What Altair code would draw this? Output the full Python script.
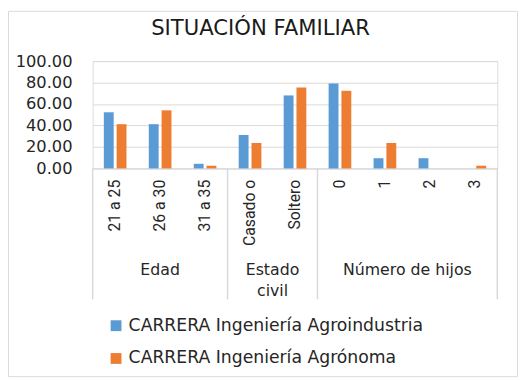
import altair as alt
import pandas as pd

# ---- data ----
categorias = ["21 a 25", "26 a 30", "31 a 35", "Casado o", "Soltero", "0", "1", "2", "3"]
series = ["CARRERA Ingeniería Agroindustria", "CARRERA Ingeniería Agrónoma"]
agroindustria = [52.3, 41.2, 4.3, 31.1, 68.0, 79.0, 9.5, 9.5, 0.0]
agronoma = [41.2, 54.1, 2.5, 23.7, 75.3, 72.3, 23.7, 0.0, 2.5]
colores = ["#5B9BD5", "#ED7D31"]
y_ticks = [0, 20, 40, 60, 80, 100]

grupo_centro = ["Edad"]              # label centred on the middle category
grupo_centro_cat = ["26 a 30"]
grupo_borde = ["Estado\ncivil", "Número de hijos"]  # label centred on a band edge
grupo_borde_cat = ["Casado o", "1"]
sep_inicio_cat = ["21 a 25"]
sep_fin_cat = ["31 a 35", "Soltero", "3"]

titulo = ["SITUACIÓN FAMILIAR"]

# ---- tables ----
rows = []
for s, vals in zip(series, [agroindustria, agronoma]):
    for c, v in zip(categorias, vals):
        rows.append({"cat": c, "serie": s, "valor": v})
df = pd.DataFrame(rows)

FONT = "DejaVu Sans"
W, H = 411, 109

xscale = alt.Scale(domain=categorias, paddingInner=0, paddingOuter=0)
xaxis = alt.Axis(title=None, labelAngle=270, labelPadding=11, ticks=False,
                 domain=True, domainColor="#D9D9D9", domainWidth=1,
                 labelFontSize=16, labelFont="Roboto", labelColor="#262626")

bars = alt.Chart(df).mark_bar().encode(
    x=alt.X("cat:N", scale=xscale, sort=categorias, axis=xaxis),
    xOffset=alt.XOffset("serie:N", sort=series,
                        scale=alt.Scale(paddingInner=0.23, paddingOuter=0.87)),
    y=alt.Y("valor:Q", scale=alt.Scale(domain=[0, 100], nice=False),
            axis=alt.Axis(title=None, values=y_ticks, format=".2f", ticks=False,
                          domain=False, gridColor="#D9D9D9", gridWidth=1,
                          labelPadding=21, labelFontSize=16.5, labelFont=FONT,
                          labelColor="#262626")),
    color=alt.Color("serie:N", sort=series,
                    scale=alt.Scale(domain=series, range=colores),
                    legend=alt.Legend(orient="none", legendX=15, legendY=260,
                                      direction="vertical", title=None,
                                      symbolType="square", symbolSize=121,
                                      symbolStrokeWidth=0, labelFontSize=17.5,
                                      labelFont=FONT, labelColor="#262626",
                                      labelLimit=450,
                                      rowPadding=14.3, labelOffset=4, padding=0)),
)

sep1 = alt.Chart(pd.DataFrame({"cat": sep_inicio_cat})).mark_rule(
    color="#D9D9D9", strokeWidth=1.5).encode(
    x=alt.X("cat:N", scale=xscale, sort=categorias, bandPosition=0, axis=xaxis),
    y=alt.value(H), y2=alt.value(H + 133))
sep2 = alt.Chart(pd.DataFrame({"cat": sep_fin_cat})).mark_rule(
    color="#D9D9D9", strokeWidth=1.5).encode(
    x=alt.X("cat:N", scale=xscale, sort=categorias, bandPosition=1, axis=xaxis),
    y=alt.value(H), y2=alt.value(H + 133))

g1 = alt.Chart(pd.DataFrame({"cat": grupo_centro_cat, "t": grupo_centro})).mark_text(
    font=FONT, fontSize=16, color="#262626", baseline="alphabetic", align="center",
    lineBreak="\n", lineHeight=21.7).encode(
    x=alt.X("cat:N", scale=xscale, sort=categorias, bandPosition=0.5, axis=xaxis),
    y=alt.value(276 - 59), text="t:N")
g2 = alt.Chart(pd.DataFrame({"cat": grupo_borde_cat, "t": grupo_borde})).mark_text(
    font=FONT, fontSize=16, color="#262626", baseline="alphabetic", align="center",
    lineBreak="\n", lineHeight=21.7).encode(
    x=alt.X("cat:N", scale=xscale, sort=categorias, bandPosition=1, axis=xaxis),
    y=alt.value(276 - 59), text="t:N")

title_layer = alt.Chart(pd.DataFrame({"t": titulo})).mark_text(
    font=FONT, fontSize=21.5, color="#1a1a1a", baseline="alphabetic",
    align="center").encode(
    x=alt.value(264.5 - 94), y=alt.value(32.5 - 59), text="t:N")

border = alt.Chart(pd.DataFrame({"k": [0]})).mark_rect(
    fillOpacity=0, stroke="#D9D9D9", strokeWidth=1).encode(
    x=alt.value(-85.5), x2=alt.value(431.5), y=alt.value(-50.5), y2=alt.value(320.5))

chart = alt.layer(border, bars, sep1, sep2, g1, g2, title_layer).properties(
    width=W, height=H,
    autosize=alt.AutoSizeParams(type="none"),
    padding={"left": 86, "top": 51, "right": 21, "bottom": 212},
).configure_view(stroke=None).configure(font=FONT)

chart.save("out.html", embed_options={"renderer": "svg", "actions": False})
